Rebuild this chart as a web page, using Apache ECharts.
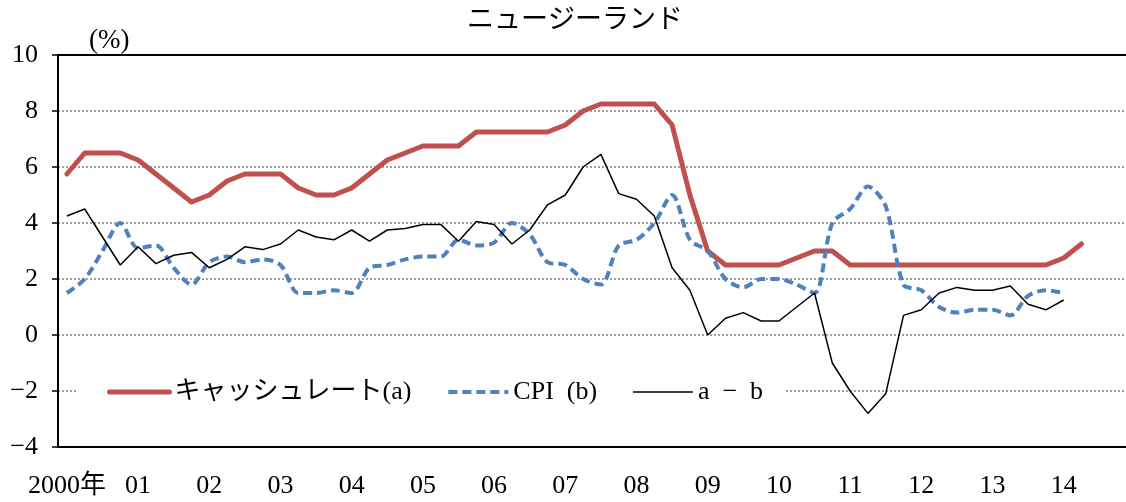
<!DOCTYPE html>
<html>
<head>
<meta charset="utf-8">
<script src="https://cdn.jsdelivr.net/npm/echarts@6/dist/echarts.min.js"></script>
<style>
  html, body { margin: 0; padding: 0; background: #fff; }
  #main { width: 1126px; height: 502px; }
  #err { position: absolute; left: 200px; top: 60px; color: #f00; font: 14px sans-serif; }
</style>
</head>
<body>
<div id="main"></div>
<div id="err"></div>
<script>
// 四半期 2000Q1 - 2014Q4
var quarters = [];
for (var y = 2000; y <= 2014; y++) {
    for (var q = 1; q <= 4; q++) quarters.push(y + 'Q' + q);
}
var yearLabels = ['2000年', '01', '02', '03', '04', '05', '06', '07', '08', '09', '10', '11', '12', '13', '14'];

// キャッシュレート (a)
var cashRate = [5.75, 6.5, 6.5, 6.5, 6.25, 5.75, 5.25, 4.75, 5.0, 5.5,
                5.75, 5.75, 5.75, 5.25, 5.0, 5.0, 5.25, 5.75, 6.25, 6.5,
                6.75, 6.75, 6.75, 7.25, 7.25, 7.25, 7.25, 7.25, 7.5, 8.0,
                8.25, 8.25, 8.25, 8.25, 7.5, 5.0, 3.0, 2.5, 2.5, 2.5,
                2.5, 2.75, 3.0, 3.0, 2.5, 2.5, 2.5, 2.5, 2.5, 2.5,
                2.5, 2.5, 2.5, 2.5, 2.5, 2.5, 2.75, 3.25];
// CPI (b)
var cpi = [1.5, 2.0, 3.0, 4.0, 3.1, 3.2, 2.4, 1.8, 2.6, 2.8,
           2.6, 2.7, 2.5, 1.5, 1.5, 1.6, 1.5, 2.4, 2.5, 2.7,
           2.8, 2.8, 3.4, 3.2, 3.3, 4.0, 3.6, 2.6, 2.5, 2.0,
           1.8, 3.2, 3.4, 4.0, 5.0, 3.4, 3.0, 2.0, 1.7, 2.0,
           2.0, 1.8, 1.5, 4.0, 4.5, 5.3, 4.6, 1.8, 1.6, 1.0,
           0.8, 0.9, 0.9, 0.7, 1.4, 1.6, 1.5];
// a - b
var diff = [4.25, 4.5, 3.5, 2.5, 3.15, 2.55, 2.85, 2.95, 2.4, 2.7,
            3.15, 3.05, 3.25, 3.75, 3.5, 3.4, 3.75, 3.35, 3.75, 3.8,
            3.95, 3.95, 3.35, 4.05, 3.95, 3.25, 3.75, 4.65, 5.0, 6.0,
            6.45, 5.05, 4.85, 4.25, 2.4, 1.6, 0.0, 0.6, 0.8, 0.5,
            0.5, 1.0, 1.5, -1.0, -2.0, -2.8, -2.1, 0.7, 0.9, 1.5,
            1.7, 1.6, 1.6, 1.75, 1.1, 0.9, 1.25];

var FONT = '"Liberation Serif", "Noto Sans CJK JP", serif';

window.onerror = function (msg) {
    document.getElementById('err').textContent += ' ' + msg;
};

var chart = echarts.init(document.getElementById('main'));

option = {
    animation: false,
    title: [{
        text: 'ニュージーランド',
        left: 575 - 108,
        top: 4,
        padding: 0,
        textStyle: { fontFamily: '"Noto Sans CJK JP"', fontSize: 27, fontWeight: 'normal', color: '#000' }
    }, {
        text: '(%)',
        left: 89,
        top: 27,
        padding: 0,
        textStyle: { fontFamily: '"Liberation Serif"', fontSize: 27, fontWeight: 'normal', color: '#000' }
    }],
    grid: { left: 58, top: 55, right: 0, bottom: 55 },
    legend: {
        left: 76,
        top: 374,
        padding: [5, 22, 5, 31],
        backgroundColor: '#fff',
        itemWidth: 60,
        itemHeight: 26,
        itemGap: 35,
        itemStyle: { opacity: 0 },
        lineStyle: { width: 'inherit' },
        textStyle: { fontFamily: FONT, fontSize: 26, color: '#000' },
        data: ['キャッシュレート(a)', 'CPI  (b)', 'a\u2002−\u2002b']
    },
    xAxis: [{
        type: 'category',
        data: quarters,
        boundaryGap: true,
        position: 'bottom',
        axisLine: { onZero: false, lineStyle: { color: '#000', width: 2 } },
        axisTick: { interval: 3, length: 7, lineStyle: { color: '#000', width: 2 } },
        axisLabel: {
            interval: 3,
            margin: 26,
            fontSize: 26,
            fontFamily: FONT,
            color: '#000',
            formatter: function (val, idx) { return yearLabels[idx / 4] || ''; }
        },
        splitLine: { show: false }
    }, {
        // 上枠
        type: 'category',
        data: quarters,
        position: 'top',
        axisLine: { show: true, onZero: false, lineStyle: { color: '#000', width: 2 } },
        axisTick: { show: false },
        axisLabel: { show: false },
        splitLine: { show: false }
    }],
    yAxis: {
        type: 'value',
        min: -4,
        max: 10,
        interval: 2,
        axisLine: { show: true, onZero: false, lineStyle: { color: '#000', width: 2 } },
        axisTick: { show: true, length: 6, lineStyle: { color: '#000', width: 1.5 } },
        axisLabel: {
            margin: 20,
            fontSize: 26,
            fontFamily: FONT,
            color: '#000',
            formatter: function (v) { return String(v).replace('-', '−'); }
        },
        splitLine: { show: true, lineStyle: { color: '#808080', width: 1.5, type: [2, 2] } }
    },
    series: [
        {
            name: 'キャッシュレート(a)',
            type: 'line',
            data: cashRate,
            symbol: 'none',
            z: 3,
            lineStyle: { color: '#C0504D', width: 5, cap: 'round', join: 'round' },
            itemStyle: { color: '#C0504D' },
            markLine: {
                silent: true,
                symbol: 'none',
                label: { show: false },
                lineStyle: { color: '#000', width: 2, type: 'solid' },
                data: [{ yAxis: 10 }]
            }
        },
        {
            name: 'CPI  (b)',
            type: 'line',
            data: cpi,
            symbol: 'none',
            smooth: 0.3,
            z: 4,
            lineStyle: { color: '#4F81BD', width: 4, type: [9, 5] },
            itemStyle: { color: '#4F81BD' }
        },
        {
            name: 'a\u2002−\u2002b',
            type: 'line',
            data: diff,
            symbol: 'none',
            z: 4,
            lineStyle: { color: '#000', width: 1.5 },
            itemStyle: { color: '#000' }
        }
    ]
};

try {
    chart.setOption(option);
} catch (e) {
    document.getElementById('err').textContent += ' ' + e.message;
}
</script>
</body>
</html>
